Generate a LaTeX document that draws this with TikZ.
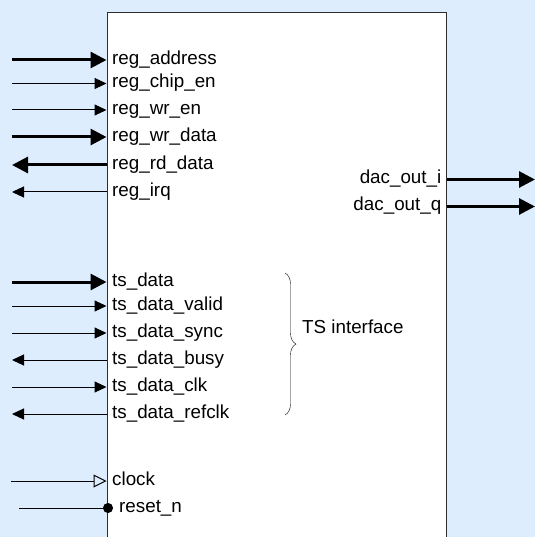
\documentclass[tikz,border=0pt]{standalone}
\usepackage{fontspec}
\setmainfont{Liberation Sans}
\usetikzlibrary{arrows.meta,positioning,decorations.pathreplacing}
\definecolor{paper}{HTML}{DEEDFE}
\definecolor{edge}{HTML}{2E2E2E}
\tikzset{block/.style={draw=edge,fill=white,line width=1pt,minimum width=339.5pt,minimum height=560pt,anchor=north west,inner sep=0pt},port/.style={font=\fontsize{18.8}{20}\selectfont,text height=13pt,text depth=4pt,inner xsep=5.5pt,inner ysep=0pt},bus/.style={line width=3pt,>={Triangle[length=16pt,width=16pt]}},wire/.style={line width=1pt,>={Triangle[length=12pt,width=11pt]}}}

\begin{document}
\begin{tikzpicture}[x=1pt,y=-1pt]
\fill[paper] (0,0) rectangle (535,537);
\useasboundingbox (0,0) rectangle (535,537);
\node[block] (core) at (106.5,12) {};
\foreach \y/\name/\kind/\dir [count=\i] in {60/reg\_address/bus/->,83.5/reg\_chip\_en/wire/->,110/reg\_wr\_en/wire/->,137/reg\_wr\_data/bus/->,165/reg\_rd\_data/bus/<-,192/reg\_irq/wire/<-,282/ts\_data/bus/->,306/ts\_data\_valid/wire/->,333/ts\_data\_sync/wire/->,360/ts\_data\_busy/wire/<-,387/ts\_data\_clk/wire/->,414/ts\_data\_refclk/wire/<-}{
\node[port,anchor=west] (p\i) at (core.west |- 0,\y) {\name};
\coordinate (e\i) at (12,\y);
\draw[\kind,\dir] (e\i) -- (p\i.west);
}
\foreach \y/\name [count=\i] in {179.5/dac\_out\_i,206.5/dac\_out\_q}{
\node[port,anchor=east] (q\i) at (core.east |- 0,\y) {\name};
\coordinate (f\i) at (535,\y);
\draw[bus,->] (q\i.east) -- (f\i);
}
\node[port,anchor=west] (clk) at (core.west |- 0,481) {clock};
\coordinate (eclk) at (11,481);
\draw[line width=1pt,-{Triangle[open,length=13pt,width=13pt]}] (eclk) -- (clk.west);
\node[port,anchor=west,inner xsep=6pt] (rst) at (113,508) {reset\_n};
\coordinate (erst) at (19,508);
\draw[line width=1pt,-{Circle[length=10pt]}] (erst) -- (rst.west);
\draw[decorate,decoration={brace,amplitude=11pt}] (285,273) -- (285,415);
\node[port,anchor=west] (tsif) at (296.5,328.5) {TS interface};
\end{tikzpicture}
\end{document}
